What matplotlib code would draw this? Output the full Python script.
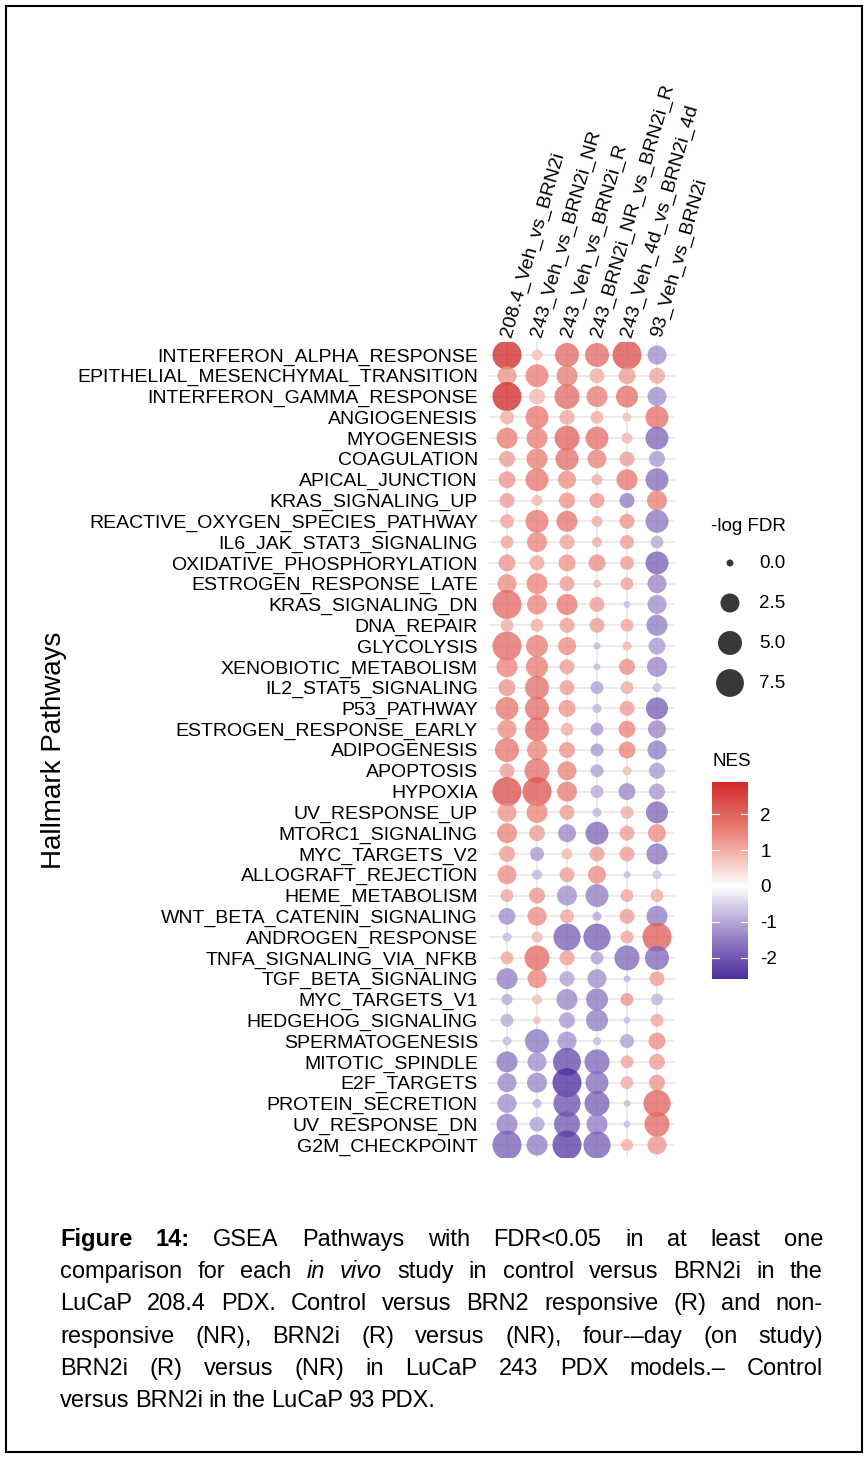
import numpy as np
import matplotlib
matplotlib.use("Agg")
import matplotlib.pyplot as plt
from matplotlib.colors import LinearSegmentedColormap, Normalize
from matplotlib.patches import Rectangle

plt.rcParams['font.family'] = ['Liberation Sans', 'DejaVu Sans']

W, H = 866, 1458

pathways = [
    "INTERFERON_ALPHA_RESPONSE", "EPITHELIAL_MESENCHYMAL_TRANSITION", "INTERFERON_GAMMA_RESPONSE",
    "ANGIOGENESIS", "MYOGENESIS", "COAGULATION", "APICAL_JUNCTION", "KRAS_SIGNALING_UP",
    "REACTIVE_OXYGEN_SPECIES_PATHWAY", "IL6_JAK_STAT3_SIGNALING", "OXIDATIVE_PHOSPHORYLATION",
    "ESTROGEN_RESPONSE_LATE", "KRAS_SIGNALING_DN", "DNA_REPAIR", "GLYCOLYSIS",
    "XENOBIOTIC_METABOLISM", "IL2_STAT5_SIGNALING", "P53_PATHWAY", "ESTROGEN_RESPONSE_EARLY",
    "ADIPOGENESIS", "APOPTOSIS", "HYPOXIA", "UV_RESPONSE_UP", "MTORC1_SIGNALING",
    "MYC_TARGETS_V2", "ALLOGRAFT_REJECTION", "HEME_METABOLISM", "WNT_BETA_CATENIN_SIGNALING",
    "ANDROGEN_RESPONSE", "TNFA_SIGNALING_VIA_NFKB", "TGF_BETA_SIGNALING", "MYC_TARGETS_V1",
    "HEDGEHOG_SIGNALING", "SPERMATOGENESIS", "MITOTIC_SPINDLE", "E2F_TARGETS",
    "PROTEIN_SECRETION", "UV_RESPONSE_DN", "G2M_CHECKPOINT"]

comparisons = ["208.4_Veh_vs_BRN2i", "243_Veh_vs_BRN2i_NR", "243_Veh_vs_BRN2i_R",
               "243_BRN2i_NR_vs_BRN2i_R", "243_Veh_4d_vs_BRN2i_4d", "93_Veh_vs_BRN2i"]

# NES per comparison (rows in pathway order)
nes_208 = [2.9, 1.3, 2.9, 1.0, 1.6, 1.2, 1.3, 1.2, 1.1, 1.1, 1.3, 1.4, 1.9, 1.0, 1.9, 1.5, 1.3, 1.7, 1.4, 1.7,
           1.2, 2.3, 1.3, 1.5, 1.2, 1.4, 1.1, -1.3, -0.8, 1.1, -1.5, -1.0, -1.0, -0.8, -1.6, -1.4, -1.3, -1.5, -1.9]
nes_243_nr = [0.8, 1.6, 0.9, 1.7, 1.6, 1.6, 1.7, 0.9, 1.7, 1.5, 1.1, 1.5, 1.5, 1.0, 1.6, 1.6, 1.8, 1.8, 1.9, 1.5,
              1.8, 2.2, 1.5, 1.2, -1.2, -0.9, 1.3, 1.4, 0.9, 1.9, 1.5, 0.8, 0.8, -1.6, -1.3, -1.4, -0.9, -1.1, -1.5]
nes_243_r = [1.9, 1.6, 1.9, 1.1, 2.0, 1.8, 1.4, 1.3, 1.7, 1.1, 1.3, 1.2, 1.7, 1.2, 1.4, 1.2, 1.2, 1.3, 1.0, 1.3,
             1.5, 1.6, 1.2, -1.4, 0.9, 1.2, -1.3, 1.1, -1.9, 1.2, -1.1, -1.4, -1.2, -1.3, -2.2, -2.6, -2.1, -2.0, -2.4]
nes_243_nr_r = [1.9, 1.0, 1.6, 1.0, 1.8, 1.5, 1.0, 1.3, 1.0, 1.0, 1.4, 0.9, 1.2, 1.2, -0.9, -0.8, -1.1, -0.9, -1.2, -1.2,
                -1.1, -1.0, -0.9, -1.8, 1.2, 1.4, -1.5, -1.0, -1.9, -1.1, -1.3, -1.6, -1.5, -0.8, -1.8, -1.7, -1.9, -1.5, -1.9]
nes_243_4d = [2.3, 1.2, 1.8, 0.8, 0.9, 1.2, 1.7, -1.5, 1.3, 1.2, 1.2, 1.1, -0.8, 1.1, 0.9, 1.4, 1.0, 1.2, 1.5, 1.5,
              0.8, -1.4, 1.0, 1.2, 1.2, -0.8, 1.1, 1.2, 1.1, -1.8, -0.9, 1.3, -0.8, -1.1, 1.1, 1.0, -0.8, -0.8, 1.0]
nes_93 = [-1.3, 1.1, -1.3, 1.8, -1.8, -1.2, -1.7, 1.6, -1.6, -1.0, -1.9, -1.4, -1.3, -1.5, -1.2, -1.4, -0.8, -1.9, -1.4, -1.5,
          -1.2, -1.2, -1.8, 1.4, -1.6, -0.7, 1.0, -1.5, 2.1, -1.8, 1.2, -0.9, 1.1, 1.4, 1.2, 1.3, 2.0, 1.9, 1.3]

# -log FDR per comparison
fdr_208 = [8.4, 2.5, 8.4, 0.85, 3.4, 1.4, 1.7, 1.1, 0.85, 0.6, 1.7, 2.5, 8.4, 0.6, 8.4, 3.4, 1.7, 4.4, 2.5, 5.0,
           1.1, 8.4, 2.5, 2.9, 1.4, 2.5, 0.6, 1.7, 0.07, 0.6, 3.4, 0.28, 0.6, 0.07, 3.4, 2.5, 2.5, 3.4, 8.4]
fdr_243_nr = [0.28, 4.4, 1.4, 4.4, 3.4, 3.4, 4.4, 0.28, 4.4, 2.9, 1.1, 3.4, 2.9, 0.6, 3.9, 3.9, 5.0, 5.0, 5.0, 2.9,
              5.6, 8.4, 3.4, 1.4, 0.85, 0.16, 1.4, 2.5, 0.28, 5.6, 2.5, 0.16, 0.02, 5.0, 2.5, 2.9, 0.07, 1.1, 3.4]
fdr_243_r = [5.0, 3.4, 5.6, 1.1, 5.6, 4.4, 2.1, 1.4, 3.4, 1.1, 1.7, 1.1, 3.4, 1.1, 2.1, 1.1, 1.1, 1.7, 0.6, 1.4,
             2.5, 2.9, 1.1, 2.1, 0.28, 1.1, 2.9, 0.85, 7.0, 1.1, 1.1, 3.4, 1.4, 2.5, 7.6, 8.4, 7.0, 6.2, 8.4]
fdr_243_nr_r = [5.0, 1.1, 3.4, 0.6, 4.4, 2.5, 0.28, 1.1, 0.28, 0.16, 1.7, 0.02, 1.1, 1.1, 0.0, 0.0, 0.6, 0.07, 0.6, 0.6,
                0.6, 0.6, 0.07, 4.4, 1.1, 2.1, 4.4, 0.07, 7.0, 0.6, 2.5, 3.9, 3.9, 0.02, 5.6, 4.4, 5.6, 3.4, 7.0]
fdr_243_4d = [8.4, 1.7, 3.9, 0.07, 0.28, 1.1, 3.4, 1.1, 1.1, 0.85, 0.85, 0.6, 0.0, 0.6, 0.07, 1.4, 0.6, 1.1, 1.7, 1.7,
              0.07, 1.7, 0.6, 1.1, 1.1, 0.0, 0.6, 1.1, 0.6, 5.6, 0.0, 0.6, 0.0, 0.85, 0.6, 0.6, 0.0, 0.0, 0.43]
fdr_93 = [2.5, 1.4, 2.5, 4.4, 4.4, 1.4, 4.4, 2.9, 4.4, 0.6, 4.4, 2.5, 2.5, 3.4, 1.7, 2.9, 0.07, 3.9, 2.1, 2.5,
          1.4, 1.4, 3.9, 2.1, 3.4, 0.07, 0.6, 3.4, 8.4, 5.0, 1.1, 0.43, 0.6, 1.7, 1.4, 1.4, 7.0, 5.6, 2.5]

size_breaks = [0.0, 2.5, 5.0, 7.5]
nes_breaks = [-2, -1, 0, 1, 2]

nes_cols = [nes_208, nes_243_nr, nes_243_r, nes_243_nr_r, nes_243_4d, nes_93]
fdr_cols = [fdr_208, fdr_243_nr, fdr_243_r, fdr_243_nr_r, fdr_243_4d, fdr_93]


def px(x0, y0, x1, y1):
    # pixel box (top-left origin) -> figure fraction rect
    return [x0 / W, 1 - y1 / H, (x1 - x0) / W, (y1 - y0) / H]


def dot_size(v):
    d = 7 + 7.6 * np.sqrt(np.asarray(v, dtype=float))
    return (d * 0.72) ** 2


cmap = LinearSegmentedColormap.from_list(
    "nes", ["#3A1A93", "#9682C6", "#FFFFFF", "#EC887E", "#D12B2B"])
all_nes = np.concatenate([np.array(c) for c in nes_cols])
lim = np.abs(all_nes).max()
norm = Normalize(-lim, lim)

fig = plt.figure(figsize=(W / 100, H / 100), dpi=100)
fig.patches.append(Rectangle((6 / W, 6 / H), 856 / W, 1446 / H, transform=fig.transFigure,
                             fill=False, edgecolor="black", linewidth=1.5))

ax = fig.add_axes(px(489, 342.5, 675, 1157.5))
ny = len(pathways)
for j, (nes, fdr) in enumerate(zip(nes_cols, fdr_cols)):
    ax.scatter(np.full(ny, j), np.arange(ny), s=dot_size(fdr), c=cmap(norm(nes)),
               alpha=0.78, edgecolors="none", zorder=3)

ax.set_xlim(-0.6, len(comparisons) - 0.4)
ax.set_ylim(ny - 0.4, -0.6)
ax.set_xticks(range(len(comparisons)))
ax.set_yticks(range(ny))
ax.set_yticklabels(pathways, fontsize=14)
ax.xaxis.tick_top()
ax.set_xticklabels(comparisons, fontsize=14, rotation=74, ha="left", va="center",
                   rotation_mode="anchor")
ax.tick_params(length=0, axis="y", pad=8)
ax.tick_params(length=0, axis="x", pad=4)
ax.grid(True, color="#EBEBEB", linewidth=1.3)
ax.set_axisbelow(True)
for s in ax.spines.values():
    s.set_visible(False)
ax.set_ylabel("Hallmark Pathways", fontsize=20)
ax.yaxis.set_label_coords(-(489 - 67) / 186, 0.5)

# size legend
lax = fig.add_axes(px(705, 543, 800, 703))
lax.scatter(np.full(len(size_breaks), 0.263), np.arange(len(size_breaks)), s=dot_size(size_breaks),
            color="black", alpha=0.78, edgecolors="none")
for i, b in enumerate(size_breaks):
    lax.text(0.568, i, f"{b:.1f}", fontsize=13.5, va="center", ha="left")
lax.set_xlim(0, 1)
lax.set_ylim(len(size_breaks) - 0.5, -0.5)
lax.axis("off")
fig.text(711 / W, 1 - 527 / H, "-log FDR", fontsize=13.5, va="center", ha="left")

# colour bar
cax = fig.add_axes(px(712, 782, 748, 979))
vals = np.linspace(all_nes.min(), all_nes.max(), 256)
cax.imshow(cmap(norm(vals))[:, None, :], aspect="auto", origin="lower",
           extent=[0, 1, all_nes.min(), all_nes.max()])
for b in nes_breaks:
    cax.plot([0, 0.2], [b, b], color="white", lw=0.8)
    cax.plot([0.8, 1], [b, b], color="white", lw=0.8)
cax.set_xlim(0, 1)
cax.set_ylim(all_nes.min(), all_nes.max())
cax.set_xticks([])
cax.yaxis.tick_right()
cax.set_yticks(nes_breaks)
cax.set_yticklabels([str(b) for b in nes_breaks], fontsize=13.5)
cax.tick_params(length=0, pad=9)
for s in cax.spines.values():
    s.set_visible(False)
fig.text(712 / W, 1 - 762 / H, "NES", fontsize=13.5, va="center", ha="left")

# caption, justified
caption = [
    ("Figure 14:| GSEA Pathways with FDR<0.05 in at least one", True),
    ("comparison for each /in vivo/ study in control versus BRN2i in the", True),
    ("LuCaP 208.4 PDX. Control versus BRN2 responsive (R) and non-", True),
    ("responsive (NR), BRN2i (R) versus (NR), four-\u2013day (on study)", True),
    ("BRN2i (R) versus (NR) in LuCaP 243 PDX models.\u2013 Control", True),
    ("versus BRN2i in the LuCaP 93 PDX.", False),
]
renderer = fig.canvas.get_renderer()
x_left, x_right = 60, 823
for k, (line, justify) in enumerate(caption):
    base = 1246 + 32.2 * k
    bold_part = ""
    if "|" in line:
        bold_part, line = line.split("|")
    words = [(w, "bold", "normal") for w in bold_part.split()]
    italic = False
    for w in line.split():
        st = "normal"
        if w.startswith("/"):
            italic = True
            w = w[1:]
        if italic:
            st = "italic"
        if w.endswith("/"):
            w = w[:-1]
            italic = False
        words.append((w, "normal", st))
    texts = [fig.text(0, 1 - base / H, w, fontsize=17, fontweight=wt, fontstyle=st,
                      va="baseline", ha="left")
             for w, wt, st in words]
    widths = [t.get_window_extent(renderer).width for t in texts]
    if justify:
        gap = (x_right - x_left - sum(widths)) / (len(texts) - 1)
    else:
        gap = 5.5
    x = x_left
    for t, wd in zip(texts, widths):
        t.set_x(x / W)
        x += wd + gap

fig.savefig("out.png", dpi=100)
